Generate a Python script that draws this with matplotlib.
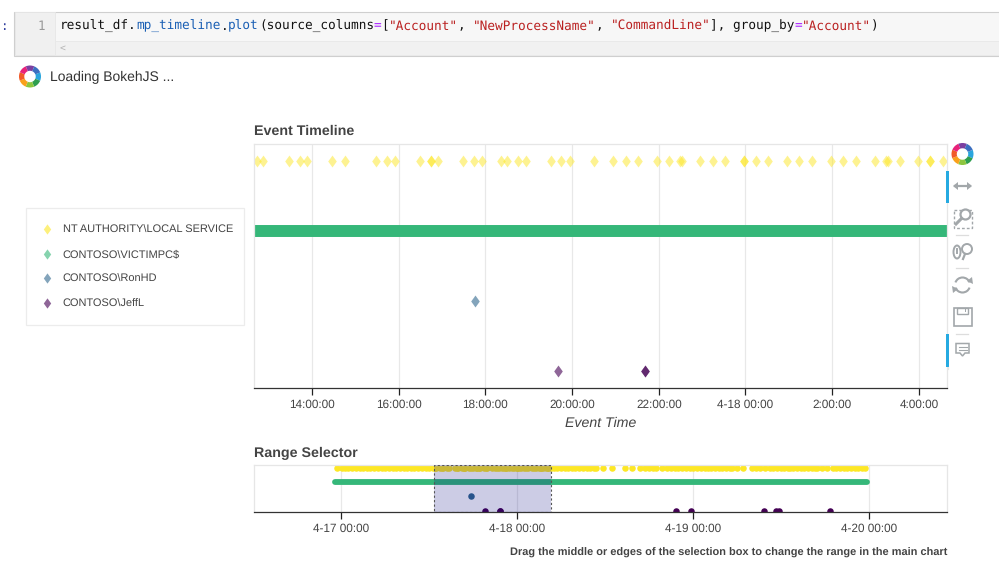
import matplotlib
matplotlib.use('Agg')
import matplotlib.pyplot as plt
from matplotlib.patches import Rectangle, Wedge, Circle, Arc, Ellipse, Polygon

plt.rcParams['font.family'] = ['Liberation Sans', 'DejaVu Sans']
plt.rcParams['text.hinting'] = 'no_hinting'

# All times are hours after 4-17 00:00
accounts = ['NT AUTHORITY\\LOCAL SERVICE', 'CONTOSO\\VICTIMPC$', 'CONTOSO\\RonHD', 'CONTOSO\\JeffL']
colors = ['#fde725', '#35b779', '#31688e', '#440154']

local_service_before = [-0.65, 0.1, 0.5, 0.95, 1.5, 1.95, 2.5, 3.0, 3.5, 3.95, 4.5, 4.95, 5.5, 5.95, 6.5,
                        7.0, 7.5, 7.95, 8.5, 9.0, 9.5, 9.95, 10.5, 11.0, 11.5, 11.95, 12.45]
local_service_main = [12.74, 12.86, 13.46, 13.73, 13.88, 14.46, 14.75, 15.47, 15.74, 15.91, 16.48, 16.75, 16.75,
                      16.91, 17.48, 17.74, 17.92, 18.36, 18.50, 18.74, 18.93, 19.51, 19.74, 19.94, 20.51, 20.94,
                      21.24, 21.52, 21.95, 22.24, 22.48, 22.54, 22.96, 23.24, 23.53, 23.97, 23.97, 24.24, 24.53,
                      24.96, 25.24, 25.54, 25.97, 26.24, 26.54, 26.98, 27.24, 27.28, 27.56, 27.99, 28.25, 28.25,
                      28.56]
local_service_after = [29.0, 29.5, 29.95, 30.5, 31.0, 31.5, 31.95, 32.5, 33.0, 33.5, 33.95, 34.5, 34.8, 35.7, 37.0,
                       38.7, 39.7, 40.8, 41.5, 42.0, 42.5, 43.0, 43.8, 44.5, 45.0, 45.5, 46.0, 46.5, 47.0, 47.6,
                       48.0, 48.5, 49.1, 49.6, 50.0, 50.5, 51.0, 51.5, 52.0, 52.5, 53.0, 53.3, 54.0, 54.8, 56.1,
                       56.6, 57.2, 57.8, 58.5, 59.0, 59.5, 60.0, 60.5, 61.0, 61.2, 61.7, 62.2, 62.7, 63.2, 63.7,
                       64.2, 64.7, 65.0, 65.6, 66.3, 67.1, 67.6, 68.1, 68.6, 69.1, 69.6, 70.1, 70.6, 71.1, 71.5]
local_service = local_service_before + local_service_main + local_service_after
victimpc_span = [-0.9, 71.75]  # events are so dense they read as one bar
ronhd = [17.75]
jeffl = [19.68, 21.68, 21.68, 45.7, 47.7, 57.7, 59.3, 59.8, 66.7]

main_ticks = [14, 16, 18, 20, 22, 24, 26, 28]
main_tick_labels = ['14:00:00', '16:00:00', '18:00:00', '20:00:00', '22:00:00', '4-18 00:00', '2:00:00', '4:00:00']
range_ticks = [0, 24, 48, 72]
range_tick_labels = ['4-17 00:00', '4-18 00:00', '4-19 00:00', '4-20 00:00']
main_xlim = [12.66, 28.65]
range_xlim = [-11.92, 82.69]

W, H = 999, 565
TEXT = '#444444'
ICON = '#a2a7aa'
DIAMOND = [(0, -1), (0.72, 0), (0, 1), (-0.72, 0)]  # bokeh's diamond is wider than 'd'


def make_axes(top, bottom):
    ax = fig.add_axes([254 / W, 1 - bottom / H, 693 / W, (bottom - top) / H])
    for side in ['top', 'left', 'right']:
        ax.spines[side].set_color('#e6e6e6')
        ax.spines[side].set_linewidth(0.9)
    ax.spines['bottom'].set_color('#333333')
    ax.spines['bottom'].set_linewidth(0.9)
    ax.set_yticks([])
    ax.grid(axis='x', color='#e8e8e8', lw=0.9)
    ax.set_axisbelow(True)
    return ax


def set_ticks(ax, ticks, labels, xlim):
    ax.set_xlim(xlim)
    ax.set_xticks(ticks, labels)
    ax.set_xticks(ticks, minor=True)
    ax.tick_params(axis='x', which='major', direction='out', length=5, width=0.9, color='#222222',
                   labelsize=8.5, labelcolor=TEXT, pad=3)
    ax.tick_params(axis='x', which='minor', direction='in', length=2, width=0.9, color='#222222')


fig = plt.figure(figsize=(W / 100, H / 100), dpi=100)

# Main timeline
ax = make_axes(144, 388)
ax.plot(local_service, [3] * len(local_service), ls='none', marker=DIAMOND, color=colors[0], alpha=0.5, ms=8.6, mew=0)
ax.plot(victimpc_span, [2, 2], color=colors[1], lw=8.6, solid_capstyle='butt')
ax.plot(ronhd, [1] * len(ronhd), ls='none', marker=DIAMOND, color=colors[2], alpha=0.6, ms=8.6, mew=0)
ax.plot(jeffl, [0] * len(jeffl), ls='none', marker=DIAMOND, color=colors[3], alpha=0.6, ms=8.6, mew=0)
ax.set_ylim(-0.243, 3.243)
set_ticks(ax, main_ticks, main_tick_labels, main_xlim)

# Range selector
ax2 = make_axes(465.3, 512.3)
ax2.scatter(local_service, [3] * len(local_service), s=22, color=colors[0], lw=0)
ax2.plot(victimpc_span, [2, 2], color=colors[1], lw=4.2, solid_capstyle='round')
ax2.scatter(ronhd, [1] * len(ronhd), s=22, color=colors[2], lw=0)
ax2.scatter(jeffl, [0] * len(jeffl), s=22, color=colors[3], lw=0)
ax2.set_ylim(-0.11, 3.17)
set_ticks(ax2, range_ticks, range_tick_labels, range_xlim)
ax2.add_patch(Rectangle((main_xlim[0], -0.11), main_xlim[1] - main_xlim[0], 3.28, facecolor='#000080', alpha=0.2,
                        lw=0, zorder=5))
ax2.add_patch(Rectangle((main_xlim[0], -0.11), main_xlim[1] - main_xlim[0], 3.28, fill=False, edgecolor='#555555',
                        lw=0.8, ls=(0, (2, 2)), zorder=6))

# Everything around the charts, in pixel coordinates
ov = fig.add_axes([0, 0, 1, 1], zorder=10)
ov.set_xlim(0, W)
ov.set_ylim(H, 0)
ov.axis('off')


def label(x, y, s, **kw):
    kw.setdefault('va', 'center')
    kw.setdefault('color', TEXT)
    ov.text(x, y, s, **kw)


def logo(cx, cy, r):
    wedge_colors = ['#2aa5dd', '#2e9e4f', '#8dc63f', '#f9a11b', '#f15a29', '#e8227a', '#7b3fa0', '#3b6fc0']
    for i, c in enumerate(wedge_colors):
        ov.add_patch(Wedge((cx, cy), r, i * 45 - 22, i * 45 + 23, width=r * 0.48, color=c, lw=0))


# code cell
ov.add_patch(Rectangle((14, 11.5), 990, 44, facecolor='#f7f7f7', edgecolor='#cfcfcf', lw=0.8))
ov.add_patch(Rectangle((14.5, 12), 40, 43, facecolor='#f0f0f0', edgecolor='#e6e6e6', lw=0.6))
ov.add_patch(Rectangle((54.5, 41), 950, 14, facecolor='#f1f1f1', edgecolor='#e8e8e8', lw=0.6))
label(0.5, 26, ':', family='DejaVu Sans Mono', fontsize=9, color='#303f9f')
label(45, 26, '1', family='DejaVu Sans Mono', fontsize=9, color='#999999', ha='right')
label(60, 48, '<', family='DejaVu Sans Mono', fontsize=7, color='#b5b5b5')
code_parts = [('result_df.', '#111111'), ('mp_timeline', '#1a5fb4'), ('.', '#111111'), ('plot', '#1a5fb4'),
              ('(source_columns', '#111111'), ('=', '#aa22ff'), ('[', '#111111'), ('"Account"', '#ba2121'),
              (', ', '#111111'), ('"NewProcessName"', '#ba2121'), (', ', '#111111'), ('"CommandLine"', '#ba2121'),
              ('], group_by', '#111111'), ('=', '#aa22ff'), ('"Account"', '#ba2121'), (')', '#111111')]
pos = 60
for part, c in code_parts:
    label(pos, 26, part, family='DejaVu Sans Mono', fontsize=9.15, color=c)
    pos += len(part) * 7.65

logo(30, 76.5, 11)
label(50, 77, 'Loading BokehJS ...', fontsize=10, color='#333333')

# titles
label(254.5, 131.5, 'Event Timeline', fontsize=10.3, fontweight='bold')
label(254.5, 453.5, 'Range Selector', fontsize=10.3, fontweight='bold')
label(601, 423, 'Event Time', fontsize=10.2, style='italic', ha='center')
label(947.5, 552.5, 'Drag the middle or edges of the selection box to change the range in the main chart',
      fontsize=7.9, fontweight='bold', ha='right')

# legend
ov.add_patch(Rectangle((25.5, 207.5), 218, 117, facecolor='white', edgecolor='#ececec', lw=0.9))
for i, name in enumerate(accounts):
    y = 229 + i * 24.7
    ov.plot([46.7], [y], ls='none', marker=DIAMOND, color=colors[i], alpha=0.6, ms=7.4, mew=0)
    label(62.7, y + 0.8, name, fontsize=7.95)

# toolbar
logo(962.5, 154, 11)
ov.add_patch(Rectangle((946, 170.5), 2.6, 32, color='#26aae1', lw=0))
ov.add_patch(Rectangle((946, 334), 2.6, 33, color='#26aae1', lw=0))
ov.plot([948, 948], [367, 369], color='#e6e6e6', lw=0.8)
for y in [235, 268, 334]:
    ov.plot([956, 968], [y, y], color='#dddddd', lw=0.9)

# pan
ov.plot([955, 970], [186, 186], color=ICON, lw=1.6)
ov.add_patch(Polygon([[953, 186], [958, 182], [958, 190]], color=ICON, lw=0))
ov.add_patch(Polygon([[972, 186], [967, 182], [967, 190]], color=ICON, lw=0))
# box zoom
ov.add_patch(Rectangle((953.5, 209.5), 18, 18, fill=False, edgecolor=ICON, lw=1, ls=(0, (2, 1.5))))
ov.add_patch(Circle((965.5, 214.5), 5, facecolor='white', edgecolor=ICON, lw=1.6))
ov.plot([961.5, 956], [218.5, 224], color=ICON, lw=2.2)
# wheel zoom
ov.add_patch(Ellipse((957, 252), 7, 13, fill=False, edgecolor=ICON, lw=1.4))
ov.plot([957, 957], [249, 253], color=ICON, lw=1.4)
ov.add_patch(Circle((967, 249), 5, fill=False, edgecolor=ICON, lw=1.4))
ov.plot([965, 963], [254, 259], color=ICON, lw=1.6)
# reset
ov.add_patch(Arc((962.5, 285), 15, 15, theta1=20, theta2=160, edgecolor=ICON, lw=1.5))
ov.add_patch(Arc((962.5, 285), 15, 15, theta1=200, theta2=340, edgecolor=ICON, lw=1.5))
ov.add_patch(Polygon([[967, 281], [972, 277], [973, 284]], color=ICON, lw=0))
ov.add_patch(Polygon([[958, 289], [953, 293], [952, 286]], color=ICON, lw=0))
# save
ov.add_patch(Rectangle((953.5, 307.5), 18, 18, fill=False, edgecolor=ICON, lw=1.2))
ov.add_patch(Rectangle((957, 307.5), 11, 6, fill=False, edgecolor=ICON, lw=1))
ov.add_patch(Rectangle((964.5, 309), 1.5, 3, color=ICON, lw=0))
# hover
ov.add_patch(Polygon([[956, 343.5], [969, 343.5], [969, 353], [965, 353], [962.5, 356], [960, 353], [956, 353]],
                     fill=False, edgecolor=ICON, lw=1.1))
ov.plot([958.5, 966.5], [347, 347], color=ICON, lw=0.8)
ov.plot([958.5, 966.5], [350, 350], color=ICON, lw=0.8)

fig.savefig('out.png', dpi=100)
